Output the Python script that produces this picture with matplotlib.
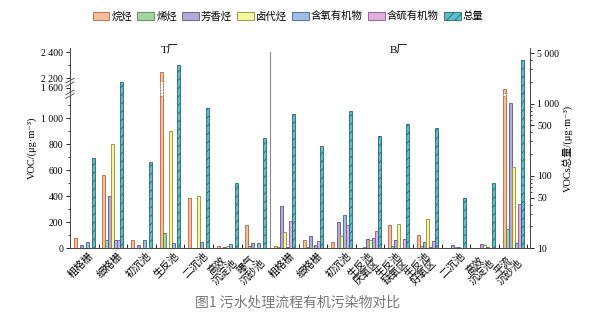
import numpy as np
import matplotlib.pyplot as plt
import matplotlib.transforms as mtransforms
from matplotlib.patches import Rectangle

plt.rcParams['font.family'] = ['Liberation Serif', 'Noto Sans CJK SC', 'DejaVu Serif']
plt.rcParams['hatch.linewidth'] = 0.6

# data
stages = ['粗格栅', '细格栅', '初沉池', '生反池', '二沉池', '高效\n沉淀池', '曝气\n沉砂池',
          '粗格栅', '细格栅', '初沉池', '生反池\n厌氧区', '生反池\n缺氧区', '生反池\n好氧区',
          '二沉池', '高效\n沉淀池', '平流\n沉砂池']
alkane   = [79, 562, 62, 2246, 387, 15, 177, 15, 62, 43, 0, 177, 100, 3, 0, 1590]
alkene   = [0, 62, 0, 118, 0, 0, 15, 4, 8, 0, 5, 15, 15, 0, 0, 150]
aromatic = [21, 400, 21, 0, 0, 10, 38, 325, 92, 202, 67, 62, 43, 22, 33, 1113]
halo     = [0, 798, 0, 900, 400, 18, 0, 125, 15, 92, 60, 182, 223, 8, 22, 626]
oxygen   = [50, 62, 62, 38, 48, 28, 42, 5, 22, 254, 79, 0, 5, 6, 8, 36]
sulfur   = [0, 62, 0, 0, 0, 0, 0, 208, 54, 177, 133, 69, 54, 0, 0, 336]
total    = [175, 1970, 157, 3430, 861, 79, 337, 718, 259, 797, 356, 517, 455, 50, 80, 4020]

names = ['烷烃', '烯烃', '芳香烃', '卤代烃', '含氧有机物', '含硫有机物', '总量']
fills = ['#f7bc9c', '#a3d69e', '#b4aad6', '#f8f6a0', '#9ebfe4', '#deb0de', '#5cc0ca']
edges = ['#b0643c', '#4d8a4d', '#5d5290', '#8c8a3c', '#3d6290', '#8c508c', '#2a6670']

# broken left axis: piecewise linear scale
brk_v = [-100, 0, 1170, 1565, 1635, 2175, 2431, 3000]
brk_p = [-13, 0, 152, 155.5, 164.6, 166.7, 200, 274]
fwd = lambda v: np.interp(v, brk_v, brk_p)
inv = lambda p: np.interp(p, brk_p, brk_v)

fig = plt.figure(figsize=(6.01, 3.27), dpi=100)
ax = fig.add_axes([70/601, 1-248/327, 460/601, 200/327])
ax.set_yscale('function', functions=(fwd, inv))
ax2 = ax.twinx()
ax2.set_yscale('log')

x = np.arange(len(stages))
bw = 0.104
series = [alkane, alkene, aromatic, halo, oxygen, sulfur]
handles = []
for j, vals in enumerate(series):
    h = ax.bar(x + (j - 3) * bw, vals, width=bw, color=fills[j], edgecolor=edges[j], lw=0.6)
    handles.append(h)
    for xi, v in zip(x, vals):
        if v > 1170:
            top = 1565 if v < 2175 else 2175
            ax.add_patch(Rectangle((xi + (j - 3) * bw - bw / 2, 1170), bw, top - 1170,
                                   facecolor='white', edgecolor=edges[j], lw=0.6, ls=(0, (2, 1.5)), zorder=3))
h = ax2.bar(x + 3 * bw, total, width=bw, color=fills[6], edgecolor=edges[6], lw=0.6,
            hatch='////', log=True)
handles.append(h)

ax.set_xlim(-0.41, 15.59)
ax.set_ylim(0, 2431)
ax2.set_ylim(10, 5870)

ax.set_yticks([0, 200, 400, 600, 800, 1000, 1600, 2200, 2400])
ax.set_yticklabels(['0', '200', '400', '600', '800', '1 000', '1 600', '2 200', '2 400'])
ax.set_yticks([100, 300, 500, 700, 900, 1100, 2300], minor=True)
ax2.set_yticks([10, 50, 100, 500, 1000, 5000])
ax2.set_yticklabels(['10', '50', '100', '500', '1 000', '5 000'])

ax.set_xticks(x + 0.4)
ax.set_xticklabels(stages, rotation=45, ha='right', va='top', fontsize=7.5,
                   linespacing=0.95, multialignment='center')
ax.set_xticks(np.arange(-0.5, 16, 1), minor=True)
ax.tick_params(axis='x', which='major', length=0, pad=2)
ax.tick_params(axis='x', which='minor', direction='in', length=3, width=0.6)
ax.tick_params(axis='y', which='major', labelsize=7, length=3, width=0.6, pad=2)
ax.tick_params(axis='y', which='minor', length=1.5, width=0.5)
ax2.tick_params(axis='y', which='major', labelsize=7, length=3, width=0.6, pad=2)
ax2.tick_params(axis='y', which='minor', length=1.5, width=0.5)

for a in (ax, ax2):
    a.spines['top'].set_visible(False)
    for s in ('left', 'right', 'bottom'):
        a.spines[s].set_linewidth(0.6)
        a.spines[s].set_color('#444444')

ax.set_ylabel('VOC/(μg·m⁻³)', fontsize=7.5, labelpad=3)
ax2.set_ylabel('VOCs总量/(μg·m⁻³)', fontsize=7.5, labelpad=3)

ax.axvline(6.5, ymax=0.98, color='#888888', lw=0.8)
trans = mtransforms.blended_transform_factory(ax.transData, ax.transAxes)
ax.text(3, 0.985, 'T厂', transform=trans, ha='center', va='center', fontsize=8)
ax.text(11, 0.985, 'B厂', transform=trans, ha='center', va='center', fontsize=8)

# break marks on the left spine
for pm in (153.8, 165.6):
    yf = pm / 200
    ax.add_patch(Rectangle((-0.006, yf - 0.008), 0.012, 0.016, transform=ax.transAxes,
                           facecolor='white', edgecolor='none', clip_on=False, zorder=5))
    for d in (-0.009, 0.009):
        ax.plot([-0.009, 0.009], [yf + d - 0.012, yf + d + 0.012], transform=ax.transAxes,
                color='#444444', lw=0.6, clip_on=False, zorder=6)

fig.legend(handles, names, loc='center', bbox_to_anchor=(288/601, 1-16/327), ncol=7,
           frameon=False, fontsize=7.5, handlelength=1.6, handleheight=0.8,
           handletextpad=0.2, columnspacing=0.5)

fig.text(298/601, 1-303/327, '图1 污水处理流程有机污染物对比', ha='center', va='center',
         fontsize=10, color='#777777', family='Noto Sans CJK SC')

fig.savefig('out.png', dpi=100)
